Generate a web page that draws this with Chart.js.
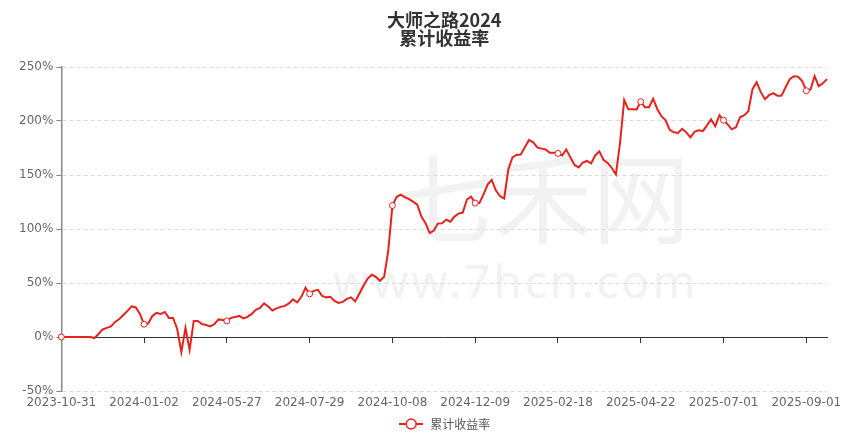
<!DOCTYPE html>
<html>
<head>
<meta charset="utf-8">
<script src="https://cdn.jsdelivr.net/npm/chart.js@4.4.1/dist/chart.umd.min.js"></script>
<style>
  body { margin: 0; background: #fff; }
  #wrap { position: relative; width: 863px; height: 440px; }
  .mark { position: absolute; color: #f2f2f2; white-space: nowrap; line-height: 1; }
  canvas { position: relative; }
</style>
</head>
<body>
<div id="wrap">
  <div class="mark" style="left:396px; top:144px; font-size:98px; font-family:'Noto Sans CJK SC';">七禾网</div>
  <div class="mark" style="left:333px; top:257px; font-size:46px; letter-spacing:3px; font-family:'Noto Sans';">www.7hcn.com</div>
  <canvas id="chart" width="863" height="440"></canvas>
</div>
<script>
// DATA

const chartTitle = ["大师之路2024", "累计收益率"];

const seriesName = "累计收益率";

const tickLabels = [
  "2023-10-31", "2024-01-02", "2024-05-27", "2024-07-29", "2024-10-08",
  "2024-12-09", "2025-02-18", "2025-04-22", "2025-07-01", "2025-09-01"
];

// one tick label every 20 points
const tickEvery = 20;

// cumulative return, %
const returnValues = [
  0, 0, 0, 0, 0, 0, 0, 0, -1, 2.8,
  7, 8.4, 9.8, 14, 16.7, 20.4, 24.2, 28.3, 27.4, 21.4,
  11.8, 12.5, 19.5, 22.3, 21.4, 23.2, 17.7, 17.7, 7.4, -14,
  8.4, -12, 14.9, 14.9, 12, 11.1, 9.8, 12, 16.3, 15.8,
  14.9, 17.7, 18.6, 19.5, 17.2, 18.6, 21.4, 25.1, 26.9, 31.1,
  28.3, 24.6, 26.5, 27.9, 28.8, 31.1, 34.8, 32, 37.2, 45.5,
  40, 42.7, 43.7, 38.1, 36.7, 37.2, 33.4, 31.6, 32.5, 35.3,
  36.7, 33, 40, 47.4, 53.9, 57.6, 55.7, 52, 55.7, 80,
  121.7, 129.6, 131.9, 129.6, 127.7, 125.4, 122.6, 111.5, 105.4, 96.2,
  98.5, 105, 105.4, 108.7, 106.8, 111.5, 114.3, 115.2, 127.3, 130,
  124, 124, 131.9, 141.2, 145.4, 135.6, 130.5, 128.2, 155.1, 166.3,
  168.6, 169, 175.6, 182.5, 180.2, 175.6, 174.4, 173.7, 170.5, 170.5,
  170, 168.1, 173.7, 166.3, 159.3, 157, 161.6, 163, 160.7, 168.1,
  171.9, 164, 161.2, 156.5, 150.5, 180, 219.3, 210.9, 210.9, 210.6,
  217.9, 212.7, 212.7, 220.6, 210.9, 204.4, 200.7, 191.8, 189.5, 189,
  192.8, 189.5, 184.9, 190, 191.4, 190.7, 196, 201.6, 195.1, 205.3,
  200.7, 196.9, 192.3, 194.2, 203.5, 205.3, 209, 229.5, 236, 226.7,
  220.2, 223.9, 225.7, 223.4, 223.4, 231.3, 238.8, 241.5, 241.1, 236.9,
  228, 229, 241.5, 232.3, 235, 238.8
];

const categories = returnValues.map((v, i) =>
  i % tickEvery === 0 ? tickLabels[i / tickEvery] : ""
);

const lineColor = "#e5231d";



// LEGEND ICON (line with hollow circle)

const icon = document.createElement("canvas");
icon.width = 24;
icon.height = 14;

const g = icon.getContext("2d");
g.strokeStyle = lineColor;
g.lineWidth = 2;
g.beginPath();
g.moveTo(0, 7);
g.lineTo(24, 7);
g.stroke();

g.beginPath();
g.arc(12, 7, 5, 0, Math.PI * 2);
g.fillStyle = "#fff";
g.fill();
g.lineWidth = 1.5;
g.stroke();



// CHART

new Chart(document.getElementById("chart"), {

  type: "line",

  data: {
    labels: categories,
    datasets: [{
      label: seriesName,
      data: returnValues,
      xAxisID: "x",
      borderColor: lineColor,
      borderWidth: 2,
      tension: 0,
      clip: false,
      pointRadius: ctx => ctx.dataIndex % tickEvery === 0 ? 3 : 0,
      pointBackgroundColor: "#fff",
      pointBorderColor: lineColor,
      pointBorderWidth: 1
    }]
  },

  options: {
    responsive: false,
    animation: false,
    events: [],

    layout: {
      padding: { left: 16, right: 36, top: 0, bottom: 0 }
    },

    plugins: {
      title: {
        display: true,
        fullSize: false,
        text: chartTitle,
        color: "#333",
        font: { family: "Noto Sans CJK SC", size: 18, weight: "bold", lineHeight: 1.0 },
        padding: { top: 11.5, bottom: 19.5 }
      },
      legend: {
        position: "bottom",
        fullSize: false,
        labels: {
          usePointStyle: true,
          pointStyle: icon,
          pointStyleWidth: 26,
          padding: 6,
          color: "#555",
          font: { family: "Noto Sans CJK SC", size: 12 }
        }
      },
      tooltip: { enabled: false }
    },

    scales: {
      x: {
        type: "category",
        position: "bottom",
        afterFit: scale => { scale.height = 21; },
        grid: { display: false, drawTicks: false },
        border: { display: false },
        ticks: {
          autoSkip: false,
          maxRotation: 0,
          minRotation: 0,
          padding: 5,
          color: "#666",
          font: { family: "DejaVu Sans", size: 12 },
          callback: (v, i) => categories[i]
        }
      },

      // axis line on the zero level
      x2: {
        type: "category",
        position: { y: 0 },
        afterFit: scale => { scale.height = 0; },
        grid: {
          drawOnChartArea: false,
          drawTicks: true,
          tickLength: 5,
          tickColor: ctx => ctx.index % tickEvery === 0 ? "#333" : "rgba(0,0,0,0)"
        },
        border: { display: true, color: "#333", width: 1 },
        ticks: { display: false, autoSkip: false }
      },

      y: {
        min: -50,
        max: 250,
        ticks: {
          stepSize: 50,
          padding: 3,
          color: "#666",
          font: { family: "DejaVu Sans", size: 12 },
          callback: v => v + "%"
        },
        grid: {
          color: "#dcdcdc",
          drawTicks: true,
          tickLength: 5,
          tickColor: "#888",
          tickBorderDash: []
        },
        border: { display: true, color: "#8a8a8a", width: 1.5, dash: [4, 3] }
      }
    }
  }
});
</script>
</body>
</html>
